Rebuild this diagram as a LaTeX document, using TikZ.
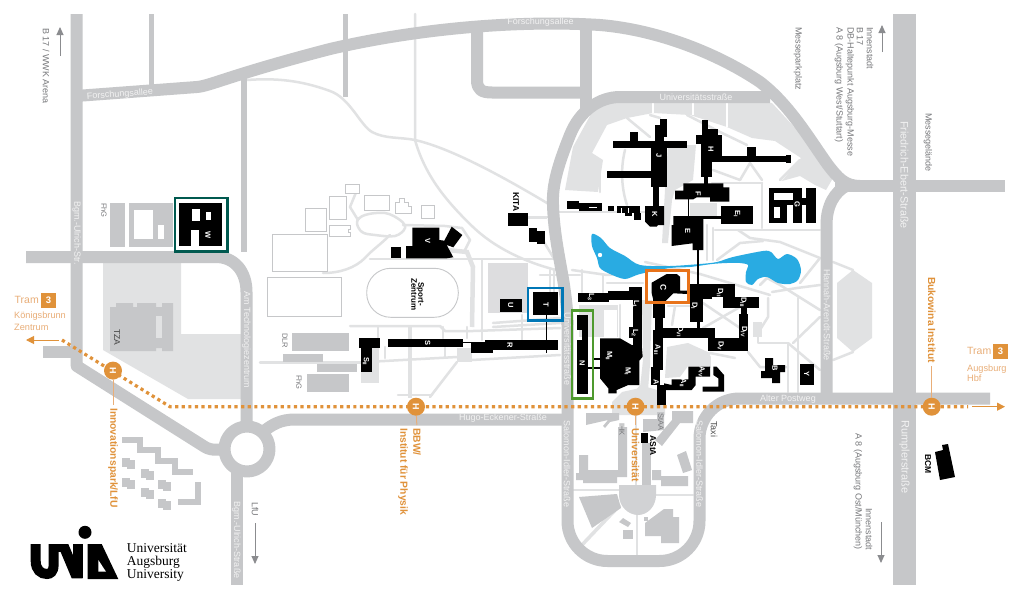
\documentclass[tikz,border=0pt]{standalone}
\usepackage{fontspec}
\setmainfont{Liberation Sans}
\newfontfamily\logofont{Liberation Serif}
\definecolor{roadc}{HTML}{C6C7C9}
\definecolor{lightc}{HTML}{E1E2E3}
\definecolor{oran}{HTML}{E0923A}
\definecolor{oranl}{HTML}{E9AE78}
\definecolor{labc}{HTML}{77787B}
\definecolor{lake}{HTML}{29ABE2}
\definecolor{frteal}{HTML}{00594F}
\definecolor{frorange}{HTML}{E8731A}
\definecolor{frblue}{HTML}{0077B6}
\definecolor{frgreen}{HTML}{4E9A2E}
\newcommand{\fs}[1]{\fontsize{#1}{#1}\selectfont}
\tikzset{
  road/.style={draw=roadc,line width=12pt,line join=round},
  lane/.style={draw=roadc,line width=5.5pt},
  lp/.style={draw=lightc,line width=2.5pt,line join=round,line cap=round},
  lpw/.style={draw=white,line width=2pt,line join=round},
  lb/.style={fill=lightc},
  gb/.style={fill=roadc},
  bk/.style={fill=black},
  ob/.style={draw=roadc,line width=.9pt,fill=white},
  rt/.style={rotate=-90,anchor=west,inner sep=0pt,font=\fs{9},text=labc},
  rw/.style={rotate=-90,inner sep=0pt,font=\fs{9},text=white!95!black},
  rb/.style={rotate=-90,anchor=west,inner sep=0pt,font=\fs{8.5}\bfseries,text=black},
  ro/.style={rotate=-90,anchor=west,inner sep=0pt,font=\fs{10.3}\bfseries,text=oran},
  hw/.style={inner sep=0pt,font=\fs{9},text=white!95!black},
  bl/.style={rotate=-90,inner sep=0pt,font=\fs{7.5}\bfseries,text=white},
  stopc/.style={circle,fill=oran,minimum size=18pt,inner sep=0pt,text=white,font=\fs{9}\bfseries},
  trbox/.style={fill=oran,minimum size=15pt,inner sep=0pt,text=white,font=\fs{9.5}\bfseries},
  trt/.style={anchor=west,inner sep=0pt,font=\fs{9.2},text=oranl,align=left},
  tram/.style={draw=oran,line width=3.2pt,dash pattern=on 3.2pt off 3.4pt},
  arrg/.style={draw=labc!85,line width=.9pt,-{Triangle[length=8pt,width=7pt]}},
  arro/.style={draw=oran,line width=1pt,-{Triangle[length=8pt,width=8pt]}},
  hl/.style={draw=oranl,line width=1pt},
}
\usetikzlibrary{arrows.meta}
\begin{document}
\begin{tikzpicture}[x=1pt,y=-1pt]
\useasboundingbox (0,0) rectangle (1021,597);
\fill[white] (0,0) rectangle (1021,597);

% --- light areas ---
\fill[lb] (103,263)--(181,263)--(181,334)--(242,334)--(242,399)--(188,399)--(103,350)--cycle;
\fill[lb] (837,283)--(853,270)--(872,283)--(872,338)--(853,352)--(837,338)--cycle;
\fill[roadc!60!white] (488.3,262.7) rectangle (527.7,313.3);
\fill[lb] (360.7,348) rectangle (379.3,382.7);
\fill[lb] (456.7,348) rectangle (471.7,361.7);
\fill[lb] (565,190)--(573,147)--(597,103)--(653,103)--(653,113)--(627,118)--(607,125)--(592,153)--(603,160)--(598,192)--cycle;
\fill[lb] (653,103)--(727,103)--(727,127)--(690,115)--(653,113)--cycle;
\fill[lb] (727,102)--(772,103)--(808,142)--(833,178)--(826,190)--(815,185)--(800,176)--(782,181)--(801,158)--(775,141)--(752,138)--(727,127)--cycle;
\fill[lb] (668,145)--(696,145)--(693,180)--(675,190)--(672,200)--(668,243)--(662,243)--(665,190)--cycle;
\fill[lb] (690,203) rectangle (717,217);
\fill[lb] (642,300)--(652,300)--(650,365)--(648,390)--(665,403)--(665,415)--(612,415)--(612,402)--(622,392)--(640,388)--(643,360)--cycle;
\fill[lb] (667,347)--(688,343)--(710,353)--(710,366)--(688,366)--(680,377)--(665,378)--cycle;
\fill[lb] (753,322) rectangle (762,337);
\fill[lb] (579,305) rectangle (618,337);
\fill[white] (604,310) rectangle (617,337);
\fill[lb] (640,385)--(664,392)--(650,402)--(632,395)--cycle;

% --- light paths ---
\draw[lp] (247,80)..controls (275,78) and (300,80)..(330,91)..controls (350,98) and (360,125)..(372,132)..controls (385,139) and (400,137)..(415,140)..controls (450,148) and (500,175)..(547,203);
\draw[lp] (415,14)--(415,140)..controls (425,175) and (445,200)..(473,227)..controls (495,248) and (525,262)..(556,270);
\draw[lp] plot[smooth cycle,tension=.6] coordinates {(357,222)(365,215)(385,213)(400,220)(405,228)(395,236)(375,235)(362,232)};
\draw[lp] (357,190)--(350,207)--(358,220);
\draw[lp] (390,235)..controls (380,245) and (372,250)..(365,258)..controls (355,268) and (340,273)..(323,273);
\draw[lp] (370,259)--(556,259);
\draw[lp] (403,225)--(445,226)--(462,228)--(470,240)--(465,250);
\draw[draw=lightc,line width=4.5pt] (447,250)--(467,252)--(473,267)--(472,327);
\draw[lp] (350,326)--(440,326)--(445,331)--(473,331)--(560,328);
\draw[lp] (493,323)--(560,318);
\draw[lp] (493,327)--(560,323);
\draw[lp] (378,327)--(378,338);
\draw[lp] (443,327)--(443,338);
\draw[lp] (467,327)--(467,338);
\draw[lp] (482,260)--(482,340);
\draw[lp] (522,315)--(522,340);
\draw[lp] (385,347)--(385,358);
\draw[lp] (445,347)--(445,357);
\draw[draw=lightc,line width=4pt] (410,326)--(410,398);
\draw[lp] (260,362.7)--(361,362.7);
\draw[lp] (372,361.7)--(457,357);
\draw[lp] (472,360)--(560,355);
\draw[lp] (398,395)--(432,395);
\draw[lp] (430,397)--(457,362);
\draw[draw=lightc,line width=3pt] (528,217.7)--(547,217.7);
\draw[lp] (544,242)--(553,257)--(560,267);
\draw[lp] (550,270)--(550,292);
\draw[lp] (554,270)--(554,292);
% campus, west
\draw[lp] (558,212)--(650,212);
\draw[lp] (540,217)--(553,217);
\draw[lp] (540,275)--(580,275);
\draw[lp] (572,270)--(607,275)--(643,272);
\draw[lp] (607,283)--(643,283);
\draw[lp] (582,270)--(582,292);
\draw[lp] (603,275)--(603,292);
\draw[lp] (625,150)..controls (620,170) and (622,190)..(627,205);
\draw[lp] (600,170)--(600,192);
\draw[lp] (627,118)--(650,137);
\draw[lp] (650,115)--(660,118);
\draw[lp] (687,115)--(720,132)--(747,145);
\draw[lp] (750,163)--(740,180);
\draw[lp] (750,163)--(762,180);
\draw[lp] (780,180)--(800,160);
\draw[lp] (713,170)--(740,180);
\draw[lp] (712,183)--(762,183);
\draw[lp] (762,183)--(762,228);
\draw[lp] (715,230)--(820,230);
\draw[lp] (738,230)--(750,238)--(780,242)--(820,258)--(800,283);
\draw[lp] (717,260)--(740,243)--(763,241);
\draw[lp] (713,228)--(713,260);
\draw[lp] (707,225)--(707,260);
\draw[lp] (645,262)--(700,274);
\draw[lp] (700,274)--(770,295);
% campus, east-south
\draw[lp] (760,285)--(767,278)--(780,285)--(820,310);
\draw[lp] (772,292)--(797,288)--(820,285);
\draw[lp] (798,298)--(798,392);
\draw[lp] (793,343)--(820,317);
\draw[lp] (758,333)--(758,343)--(788,343)--(788,392);
\draw[lp] (788,343)--(820,370);
\draw[lp] (748,352)--(760,367)--(788,367);
\draw[lp] (768,298)--(768,317)--(758,333);
\draw[lp] (703,303)--(740,328);
\draw[lp] (740,307)--(703,328);
\draw[lp] (668,306)--(690,306);
\draw[lp] (675,306)--(672,325);
\draw[lp] (710,353)--(735,358);
\draw[lp] (620,305)--(620,338);
\draw[lp] (710,357)--(710,367);
\draw[lp] (833,262)--(853,270);
\draw[lp] (833,360)--(853,352);
\draw[lp] (636,415)--(636,485);
\draw[lp] (573,490)--(619,490);
\draw[lp] (656,495)--(693,495);
\draw[lp] (637,515)--(637,555);
\draw[draw=lightc,line width=3.5pt] (620,505)--(580,547);
% white paths on the light
\draw[lpw] (693,103)--(693,115);
\draw[lpw] (653,103)--(653,113);
\draw[lpw] (727,103)--(727,127);

% --- lake ---
\fill[lake] plot[smooth cycle,tension=.5] coordinates {(592,234)(601,238)(610,248)(625,256)(640,265)(670,266)(700,264)(717,262)(733,257)(763,251)(771,252)(778,259)(787,254)(797,259)(801,270)(798,280)(790,284)(778,283)(767,277)(758,279)(752,285)(746,282)(746,272)(748,265)(740,263)(727,263)(712,264)(690,267)(670,268)(640,274)(625,279)(610,274)(600,268)(597,258)(592,246)};
\fill[white] (600,255) circle (2.2pt);

% --- roads ---
\draw[road] (76.7,14)--(76.7,366)--(205,447)..controls (212,451) and (220,450)..(228,448);
\draw[road] (26,257)--(216,257)..controls (235,257) and (246.5,272)..(246.5,292)--(246.5,428);
\draw[road] (43,351.5)--(76,351.5);
\draw[lane] (151.5,14)--(151.5,90);
\draw[draw=roadc,line width=6pt] (244,78)--(244,252);
\draw[lane] (345.5,14)--(345.5,97);
\draw[road] (76,96)--(197,87)..controls (210,86) and (230,75)..(330,49)..controls (420,28) and (520,20)..(600,25)..controls (660,30) and (720,55)..(760,82)..controls (790,105) and (810,140)..(828,165)..controls (838,178) and (845,186)..(860,186);
\draw[road] (477,25)--(477,80)..controls (477,90) and (482,92.5)..(492,92.5)--(586,92.5);
\draw[road] (586,28)--(586,110);
\draw[road] (770,97)--(715,97)--(620,97)..controls (600,97) and (580,110)..(570,135)..controls (558,165) and (552,185)..(553,205)..controls (554,235) and (560,260)..(564,285)..controls (566,300) and (567.5,310)..(567.5,325);
\draw[road,rounded corners=40pt] (567.5,320)--(567.5,561)--(699.5,561)--(699.5,398.5)--(990,398.5);
\draw[road] (567,419.5)--(295,419.5)..controls (280,419.5) and (272,425)..(264,431);
\draw[road] (237,466)--(237,585);
\draw[road] (247,449) circle (22.5pt);
\draw[draw=roadc,line width=23pt] (904.5,14)--(904.5,585);
\draw[road] (835,186)--(1005,186);
\draw[road] (826.5,398)--(826.5,225)..controls (826.5,205) and (835,192)..(846,186);

% --- grey buildings ---
\fill[gb] (110,203) rectangle (125,247);
\fill[gb] (129,203) rectangle (173,247);
\fill[white] (134,210) rectangle (153,239);
\fill[white] (158,225) rectangle (164,239);
\fill[gb] (110,307)--(116,307)--(116,303)--(133,303)--(133,307)--(137,307)--(137,303)--(156,303)--(156,307)--(162,307)--(162,303)--(173,303)--(173,351)--(162,351)--(162,348)--(156,348)--(156,351)--(110,351)--cycle;
\fill[lb] (156,316) rectangle (162,338);
\fill[gb] (291.7,333.3) rectangle (349.3,351);
\fill[gb] (282.7,354) rectangle (323.3,362);
\fill[gb] (317.3,364) rectangle (357.3,371.7);
\fill[gb] (306.7,374) rectangle (349.3,391.7);
% south campus
\fill[gb] (586,413)--(619,413)--(619,420)--(610,422)--(605,428)--(603,426)--(608,420)--(586,425)--cycle;
\fill[gb] (618,427)--(627,427)--(627,477)--(617,477)--(617,483)--(583,483)--(583,480)--(576,480)--(576,473)--(579,473)--(579,455)--(588,455)--(588,470)--(618,470)--cycle;
\fill[gb] (672,411)--(693,411)--(693,423)--(680,423)--(662,446)--(655,440)--(672,420)--cycle;
\fill[gb] (643,419)--(657,419)--(657,412)--(664,412)--(664,430)--(643,432)--cycle;
\fill[gb] (642,443) rectangle (651,485);
\fill[gb] (652,470)--(661,470)--(661,476)--(688,476)--(688,486)--(661,486)--(661,480)--(652,480)--cycle;
\fill[gb] (677,455)--(686,451)--(692,470)--(683,473)--cycle;
\fill[roadc!80!white] (619,485)--(656,485)--(656,495)..controls (656,506) and (648,515)..(638,515)..controls (628,515) and (619,506)..(619,495)--cycle;
\fill[gb] (579,497)--(617,494)--(621,508)--(592,528)--cycle;
\fill[gb] (619,522)--(623,518)--(631,523)--(628,527)--cycle;
\fill[gb] (623,530) rectangle (633,539);
\fill[gb] (645,523)--(664,509)--(673,509)--(673,517)--(679,517)--(679,543)--(661,543)--(661,536)--(645,536)--cycle;
\fill[gb] (644,517) rectangle (648,521);
% Innovationspark
\draw[draw=roadc,line width=5.5pt] (122,440)--(140,440)--(140,450)--(158,450)--(158,461)--(175,461)--(175,472)--(193,472);
\draw[draw=roadc,line width=5.5pt] (178,502)--(198,502)--(198,482);
\foreach \px/\py in {128/463,147/474,164/485,128/483,147/493,164/504}{
  \fill[gb] (\px-6,\py-5) rectangle (\px+2,\py+4);
  \fill[gb] (\px-1,\py-3) rectangle (\px+7,\py+6);
}

% --- outlined buildings ---
\draw[ob] (345.7,184.3) rectangle (359.3,193.3);
\draw[ob] (329.3,196.7) rectangle (346.7,219.3);
\draw[ob] (305,208) rectangle (326.7,231.3);
\draw[ob] (364,195) rectangle (389.3,210);
\draw[ob] (395.7,202)--(399,202)--(399,198)--(404,198)--(404,202)--(408,202)--(408,206)--(411,206)--(411,213.3)--(395.7,213.3)--cycle;
\draw[ob] (421.7,205) rectangle (434.7,218.7);
\draw[ob] (329.3,225)--(350.7,225)--(350.7,229)--(348,229)--(348,232)--(350.7,232)--(350.7,236.7)--(329.3,236.7)--cycle;
\draw[ob] (272.7,234.3) rectangle (327.3,271.3);
\draw[ob] (267.7,277.3) rectangle (341.3,316);
\draw[ob,rounded corners=24pt] (366.7,268.3) rectangle (458.3,317.3);

% --- black buildings ---
% W
\fill[bk] (179,203) rectangle (222,246);
\fill[white] (192,209) rectangle (200,221);
\fill[white] (206,212) rectangle (211,220);
\fill[white] (191,230) rectangle (199,246.5);
% J
\fill[bk] (612.7,140.7) rectangle (686.7,148.3);
\fill[bk] (630,131.7) rectangle (638.3,141);
\fill[bk] (655,125) rectangle (666.7,137.3);
\fill[bk] (660,119.3) rectangle (666.7,125.5);
\fill[bk] (655,137) rectangle (664,141);
\fill[bk] (650.7,148) rectangle (666.7,187);
\fill[bk] (607.3,171) rectangle (651,178.3);
\fill[bk] (653,187) rectangle (659,206);
% K
\fill[bk] (645,206)--(664,206)--(664,225)--(658,225)--(656.7,226.7)--(650,226.7)--(645,221.7)--cycle;
% small row
\fill[bk] (566.7,201) rectangle (579.3,209.3);
\fill[bk] (579,203.3) rectangle (601.7,210.7);
\fill[bk] (608,206) rectangle (614,210.7);
\fill[bk] (617,206) rectangle (640,213);
\fill[bk] (634,213) rectangle (640.7,219.5);
\fill[bk] (625,213) rectangle (632,216);
\fill[white] (589,207) rectangle (597,208);
\fill[white] (621,207.5) rectangle (622,213);
\fill[white] (628,207.5) rectangle (629,213);
% H
\fill[bk] (701.7,120) rectangle (708.3,130);
\fill[bk] (701.7,129) rectangle (717.7,135.5);
\fill[bk] (696,135) rectangle (721.7,144);
\fill[bk] (701,144) rectangle (712.3,177.3);
\fill[bk] (712,140) rectangle (721.7,161.7);
\fill[bk] (721,155.7) rectangle (785.7,161.7);
\fill[bk] (747.3,147.3) rectangle (755.7,156);
\fill[bk] (785.7,155) rectangle (790.7,162.7);
\fill[bk] (704,177) rectangle (708.3,184);
% F
\fill[bk] (683.3,183.3)--(723.3,183.3)--(723.3,187.3)--(729.3,187.3)--(729.3,201.7)--(710,201.7)--(710,197.3)--(696.7,197.3)--(693.3,199.3)--(675,199.3)--(675,190.7)--(683.3,190.7)--cycle;
\fill[bk] (688,199) rectangle (689.3,217);
% E4
\fill[bk] (721,205.7) rectangle (753.3,224);
\fill[bk] (703,216) rectangle (722,219);
% E
\fill[bk] (673.3,216)--(703.3,216)--(703.3,250)--(692.7,250)--(692.7,243.3)--(671.7,246)--(671.7,225)--(673.3,225)--cycle;
\fill[bk] (697,250) rectangle (699.3,285);
% G
\fill[bk] (769,188.3) rectangle (774,222.7);
\fill[bk] (769,188.3) rectangle (800,193.3);
\fill[bk] (774,200) rectangle (793.5,205);
\fill[bk] (780,205) rectangle (787.3,222.7);
\fill[bk] (793.3,188.3) rectangle (801.7,222.7);
\fill[bk] (806,188.3) rectangle (816,222.7);
\fill[bk] (801.7,198.3) rectangle (806,205);
\fill[bk] (774,205) rectangle (780,207.3);
\fill[bk] (774,218.3) rectangle (780,222.7);
% C
\fill[bk] (651.7,282.7)--(666.7,274)--(676.7,274)--(680,276.7)--(680,290.7)--(687.7,290.7)--(687.7,294)--(673.3,293.3)--(665,301.7)--(653.3,300)--(651.7,293.3)--cycle;
% A
\fill[bk] (653.3,300) rectangle (665,318.3);
\fill[bk] (655,316) rectangle (663.3,330);
\fill[bk] (653.3,330) rectangle (662.7,370);
\fill[bk] (650.7,366.7) rectangle (660,385);
\fill[bk] (656.7,385) rectangle (666,405);
\fill[bk] (688.3,366.7)--(710,366.7)--(710,376.7)--(695.7,376.7)--(695.7,385)--(691.7,390)--(664,390)--(664,383.3)--(671.7,385)--(671.7,379.3)--(688.3,379.3)--cycle;
\fill[bk] (713.3,366.7)--(716.7,366.7)--(724,375)--(724,391.7)--(702.7,391.7)--(702.7,386.7)--(718.3,386.7)--(718.3,378.3)--(713.3,375)--cycle;
% D
\fill[bk] (690,284.3) rectangle (735,297);
\fill[bk] (690,297) rectangle (702.7,321.7);
\fill[bk] (702,297) rectangle (712,299.3);
\fill[bk] (723.3,296.7) rectangle (759.3,308.3);
\fill[bk] (741,308) rectangle (746.5,314);
\fill[bk] (739.3,314) rectangle (748.3,351);
\fill[bk] (663.3,328.3) rectangle (715,338.3);
\fill[bk] (708.3,338.3) rectangle (748.3,351);
\fill[bk] (697,321) rectangle (699.5,329);
% L
\fill[bk] (578.3,292.7) rectangle (608.5,302.3);
\fill[bk] (608.3,290.7) rectangle (630,300);
\fill[bk] (629.3,286.7) rectangle (641.7,300);
\fill[bk] (633.3,300) rectangle (641.7,328.3);
\fill[bk] (629.3,327.3) rectangle (641.7,338.3);
\fill[bk] (633.3,338) rectangle (641.7,346);
% M
\fill[bk] (600,338.3)--(620,338.3)--(631.7,345)--(641.7,345)--(642.7,356.7)--(639.3,360.7)--(639.3,385)--(628.3,385)--(616.7,390)--(616.7,393.3)--(608.3,393.3)--(608.3,388.3)--(600,378.3)--cycle;
\fill[bk] (593,358.3) rectangle (600,359.7);
\fill[bk] (586.7,367.3) rectangle (600,368.7);
% N
\fill[bk] (576.7,315) rectangle (588.3,330);
\fill[bk] (582.3,330) rectangle (588.3,340);
\fill[bk] (576.7,340) rectangle (588.3,394);
% T U R S
\fill[bk] (532.7,292.3) rectangle (558.3,315);
\fill[bk] (545.8,315) rectangle (547.2,352.7);
\fill[bk] (500,299.3) rectangle (522.3,312.3);
\fill[bk] (485,340) rectangle (558.3,350);
\fill[bk] (470.7,341.7) rectangle (492.7,353.3);
\fill[bk] (462.7,342) rectangle (470.7,343);
\fill[bk] (388.3,338.7) rectangle (462.7,347);
\fill[bk] (359.3,338.3) rectangle (380,348.3);
\fill[bk] (361,348) rectangle (371.7,372.3);
% V
\fill[bk] (412.3,227.7)--(439.3,227.7)--(439.3,240)--(444.3,240.7)--(451.7,226.7)--(462.3,235)--(453.3,247.3)--(446.7,245)--(453.3,257.3)--(446.7,258.3)--(406,258.3)--(406,246)--(412.3,246)--cycle;
\fill[bk] (391,246.7) rectangle (401,258.3);
% KITA
\fill[bk] (507.7,212.7) rectangle (528.3,226);
\fill[bk] (528.7,228.3) rectangle (536.7,241.7);
\fill[bk] (536.7,231) rectangle (545,244.3);
% B
\fill[bk] (765,358)--(773,358)--(773,365)--(785,365)--(785,372)--(780,372)--(780,383)--(772,383)--(772,378)--(761,378)--(761,371)--(765,371)--cycle;
% Y
\fill[bk] (800,364) rectangle (813.5,384.5);
% AStA, BCM
\fill[bk] (641,433) rectangle (648,443);
\fill[bk] (935,452)--(943,450)--(942,445)--(948,444)--(955,477)--(940,480)--cycle;

% --- coloured frames ---
\draw[draw=frteal,line width=2.6pt] (175,198) rectangle (227.5,251.5);
\draw[draw=frorange,line width=2.6pt] (646.7,270.7) rectangle (688.3,302.7);
\draw[draw=frblue,line width=2.4pt] (527.7,287.7) rectangle (562.3,320.3);
\draw[draw=frgreen,line width=2.2pt] (572,310.5) rectangle (593,398.5);

% --- building letters ---
\node[bl] (lW) at (208,235) {W};
\node[bl] (lJ) at (659,155.7) {J};
\node[bl] (lK) at (654.7,214.3) {K};
\node[bl] (lH) at (711,149.3) {H};
\node[bl] (lF) at (698.3,194) {F};
\node[bl] (lEf) at (737,214.3) {E\textsubscript{I}};
\node[bl] (lE) at (687.7,231) {E};
\node[bl] (lG) at (797.3,204.3) {G};
\node[bl,font=\fs{8.5}\bfseries] (lC) at (663.3,287.3) {C};
\node[bl] (lAi) at (657.3,350) {A\textsubscript{III}};
\node[bl] (lAa) at (655.7,383.3) {A\textsubscript{I}};
\node[bl] (lAb) at (683,383) {A\textsubscript{II}};
\node[bl] (lAc) at (701.7,371.7) {A\textsubscript{IV}};
\node[bl] (lDa) at (694.3,306) {D\textsubscript{I}};
\node[bl] (lDb) at (720,292.7) {D\textsubscript{II}};
\node[bl] (lDc) at (743.3,302.7) {D\textsubscript{III}};
\node[bl] (lDd) at (744,331.7) {D\textsubscript{IV}};
\node[bl] (lDe) at (720.7,346) {D\textsubscript{V}};
\node[bl] (lDf) at (680,331.7) {D\textsubscript{VI}};
\node[bl] (lLc) at (591,297.3) {L\textsubscript{3}};
\node[bl] (lLa) at (636,304.3) {L\textsubscript{1}};
\node[bl] (lLb) at (635,333.3) {L\textsubscript{2}};
\node[bl] (lMb) at (609,356) {M\textsubscript{II}};
\node[bl] (lMa) at (627.7,371.7) {M\textsubscript{I}};
\node[bl] (lN) at (582.3,363.3) {N};
\node[bl] (lT) at (546,305) {T};
\node[bl] (lU) at (510.7,305.3) {U};
\node[bl] (lR) at (510,345.7) {R};
\node[bl] (lS) at (427.7,342.7) {S};
\node[bl] (lSb) at (366,361.7) {S\textsubscript{II}};
\node[bl] (lV) at (427.7,241) {V};
\node[bl] (lB) at (775,368) {B};
\node[bl] (lY) at (806.7,374) {Y};

% --- text on roads ---
\node[hw,rotate=4] (t1) at (120,94.5) {Forschungsallee};
\node[hw] (t2) at (540.5,22) {Forschungsallee};
\node[hw] (t3) at (696,97) {Universitätsstraße};
\node[hw] (t4) at (788,398.7) {Alter Postweg};
\node[hw] (t5) at (503,418) {Hugo-Eckener-Straße};
\node[rw] (t6) at (76.7,233) {Bgm.-Ulrich-Str.};
\node[rw] (t7) at (246.5,340) {Am Technologiezentrum};
\node[rw] (t8) at (567.5,349) {Universitätsstraße};
\node[rw] (t9) at (567,464) {Salomon-Idler-Straße};
\node[rw] (t10) at (699.5,464) {Salomon-Idler-Straße};
\node[rw] (t11) at (827,315) {Hannah-Arendt-Straße};
\node[rw,font=\fs{10.8}] (t12) at (904.5,175) {Friedrich-Ebert-Straße};
\node[rw,font=\fs{11}] (t13) at (904.5,457) {Rumplerstraße};
\node[rw] (t14) at (236.5,540) {Bgm.-Ulrich-Straße};

% --- grey labels ---
\node[rt] (a1) at (46,28) {B 17 / WWK Arena};
\coordinate (a1s) at (60,56); \coordinate (a1e) at (60,27);
\draw[arrg] (a1s)--(a1e);
\node[rt,font=\fs{7.5}] (a2) at (104,203) {FhG};
\node[rt,font=\fs{8.5},text=black!75] (a3) at (117,329) {TZA};
\node[rt,font=\fs{7.5}] (a4) at (285,333) {DLR};
\node[rt,font=\fs{7.5}] (a5) at (299,375) {FhG};
\node[rt] (a6) at (798,27) {Messeparkplatz};
\node[rt] (a7) at (870,27) {Innenstadt};
\node[rt] (a8) at (860,27) {B 17};
\node[rt] (a9) at (850,27) {DB-Haltepunkt Augsburg-Messe};
\node[rt] (a10) at (839,27) {A 8 (Augsburg West/Stuttart)};
\coordinate (a11s) at (882,52); \coordinate (a11e) at (882,25);
\draw[arrg] (a11s)--(a11e);
\node[rt] (a12) at (928,113) {Messegelände};
\node[rt] (a13) at (869,508) {Innenstadt};
\node[rt] (a14) at (858,433) {A 8 (Augsburg Ost/München)};
\coordinate (a15s) at (881,522); \coordinate (a15e) at (881,563);
\draw[arrg] (a15s)--(a15e);
\node[rt] (a16) at (255,502) {LfU};
\coordinate (a17s) at (255,523); \coordinate (a17e) at (255,564);
\draw[arrg] (a17s)--(a17e);
\node[rt,text=black!70] (a18) at (714,421) {Taxi};
\node[rt,font=\fs{7.5}] (a19) at (622,423) {IHK};
\node[rt,font=\fs{7.5}] (a20) at (661,413) {StAA};
\node[rb] (a21) at (653,435) {AStA};
\node[rb] (a22) at (516,192) {KITA};
\node[rb] (a23) at (928,454) {BCM};
\node[rotate=-90,inner sep=0pt,font=\fs{8}\bfseries,align=center] (a24) at (417.7,294.3) {Sport-\\[-1pt]Zentrum};

% --- tram ---
\coordinate (tra) at (62,340);
\coordinate (trb) at (170,406.7);
\coordinate (trc) at (968,406.7);
\draw[tram] (tra)--(trb)--(trc);
\coordinate (la) at (59,340); \coordinate (lb) at (26,340);
\draw[arro] (la)--(lb);
\coordinate (ra) at (972,406.7); \coordinate (rb) at (1005,406.7);
\draw[arro] (ra)--(rb);

\node[stopc] (h1) at (113,370.6) {\rotatebox{-90}{H}};
\node[stopc] (h2) at (416,406.7) {\rotatebox{-90}{H}};
\node[stopc] (h3) at (635.5,406.7) {\rotatebox{-90}{H}};
\node[stopc] (h4) at (931.7,406.7) {\rotatebox{-90}{H}};

\node[ro] (s1) at (113,408) {Innovationspark/LfU};
\node[ro] (s2) at (417,428) {BBW/};
\node[ro] (s2b) at (403,428) {Institut für Physik};
\node[ro] (s3) at (635.5,428) {Universität};
\node[ro] (s4) at (931.7,277) {Bukowina Institut};
\draw[hl,shorten >=3pt] (h1)--(s1.west);
\draw[hl,shorten >=3pt] (h2)--(s2.west);
\draw[hl,shorten >=3pt] (h3)--(s3.west);
\draw[hl,shorten >=3pt] (h4)--(s4.east);

\node[trt,font=\fs{10.5}] (tr1) at (14.5,300) {Tram};
\node[trbox] (tb1) at (48.5,300.5) {3};
\node[trt] (tr2) at (14,316.5) {Königsbrunn};
\node[trt] (tr3) at (14,327) {Zentrum};
\node[trt,font=\fs{10.5}] (tr4) at (967,351) {Tram};
\node[trbox] (tb2) at (1000.5,351.5) {3};
\node[trt] (tr5) at (967,368.7) {Augsburg};
\node[trt] (tr6) at (967,378.7) {Hbf};

% --- logo ---
\draw[black,line width=10pt] (35.7,544)--(35.7,561)..controls (35.7,570) and (41,574)..(47,574)..controls (50,574) and (53.6,572)..(53.6,565)--(53.6,544);
\fill[black] (57.3,544)--(68.3,544)--(82.7,578.3)--(71.7,578.3)--cycle;
\fill[black] (48.6,544) rectangle (62,552);
\fill[black] (72.7,544) rectangle (82.7,578.3);
\fill[black] (85,532.3) circle (6.5pt);
\fill[black] (87.7,544)--(101.7,544)--(118.3,579)--(87.7,579)--cycle;
\fill[white] (98.3,560)--(98.3,571.7)--(106,571.7)--cycle;
\node[inner sep=0pt,anchor=west,font=\logofont\fs{13.5}] (lg1) at (126.7,548) {Universität};
\node[inner sep=0pt,anchor=west,font=\logofont\fs{13.5}] (lg2) at (126.7,562) {Augsburg};
\node[inner sep=0pt,anchor=west,font=\logofont\fs{13.5}] (lg3) at (126.7,575) {University};
\end{tikzpicture}
\end{document}
